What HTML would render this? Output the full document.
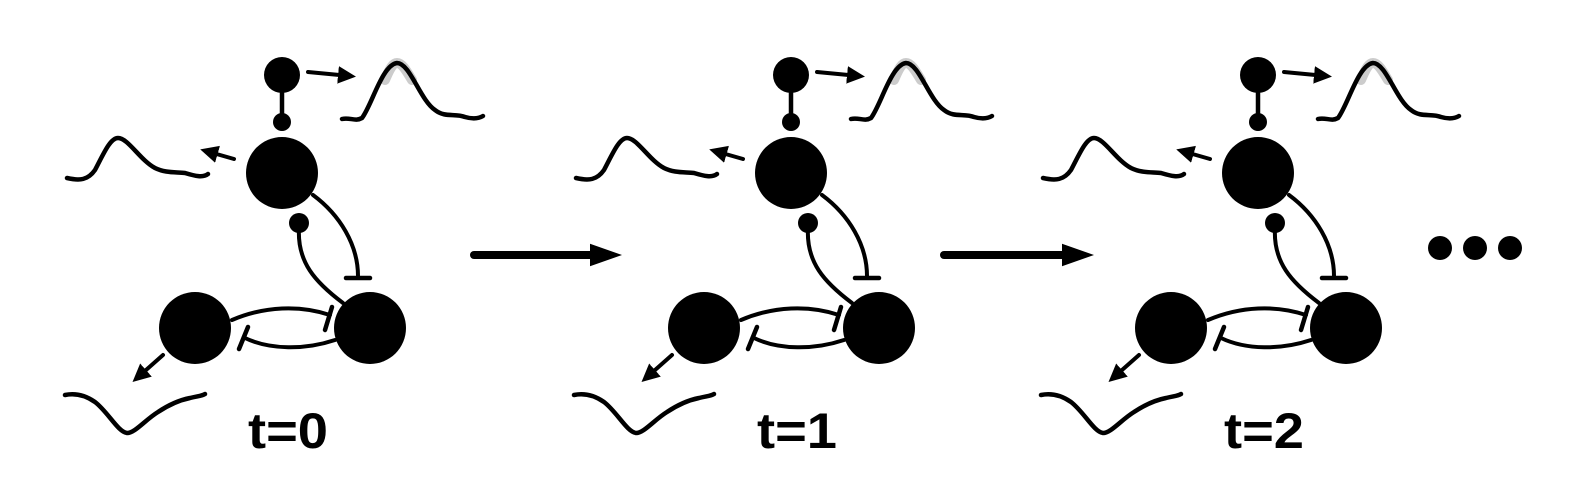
<!DOCTYPE html>
<html><head><meta charset="utf-8"><style>
html,body{margin:0;padding:0;background:#fff;width:1570px;height:498px;overflow:hidden}
svg{display:block}
</style></head><body>
<svg id="fig" width="1570" height="498" viewBox="0 0 1570 498">
<defs>
<marker id="ah" markerWidth="6" markerHeight="6" refX="3" refY="3" orient="auto" markerUnits="strokeWidth"><path d="M0,0.8 L4.5,3 L0,5.2 Z" fill="#000"/></marker>
<marker id="bah" markerWidth="4" markerHeight="4" refX="1" refY="2" orient="auto" markerUnits="strokeWidth"><path d="M0,0.6 L4,2 L0,3.4 Z" fill="#000"/></marker>
</defs>
<g id="panel0" fill="none" stroke="#000" stroke-linecap="round">
  <circle cx="282" cy="75" r="18" fill="#000" stroke="none"/>
  <line x1="282" y1="85" x2="282" y2="118" stroke-width="4.5"/>
  <circle cx="282" cy="122" r="9" fill="#000" stroke="none"/>
  <circle cx="282" cy="173" r="36" fill="#000" stroke="none"/>
  <circle cx="195" cy="328" r="36" fill="#000" stroke="none"/>
  <circle cx="370" cy="328" r="36" fill="#000" stroke="none"/>
  <circle cx="299" cy="223" r="10" fill="#000" stroke="none"/>
  <path d="M299,228 C297,262 315,282 343,303" stroke-width="4"/>
  <path d="M313,195 C340,215 358,245 358,276" stroke-width="4"/>
  <line x1="346" y1="278" x2="370" y2="278" stroke-width="4.5"/>
  <path d="M232,320 C265,306 300,305 330,315" stroke-width="4"/>
  <line x1="325" y1="330" x2="332" y2="307" stroke-width="4.5"/>
  <path d="M335,340 C305,350 270,350 245,338" stroke-width="4"/>
  <line x1="239" y1="349" x2="248" y2="327" stroke-width="4.5"/>
  <line x1="308" y1="72" x2="350" y2="76" stroke-width="4" marker-end="url(#ah)"/>
  <line x1="234" y1="159" x2="206" y2="151" stroke-width="4" marker-end="url(#ah)"/>
  <line x1="163" y1="355" x2="137" y2="378" stroke-width="4" marker-end="url(#ah)"/>
  <path d="M385,80 C390,68 393,63 397,63 C402,63 406,70 412,80" stroke="#ccc" stroke-width="10"/>
  <path d="M342,119 C350,117 355,122 362,118 C372,105 382,65 397,63 C410,63 420,100 435,110 C445,118 455,113 465,117 C472,119 478,119 483,116" stroke-width="4.5"/>
  <path d="M67,178 C80,181 88,180 95,170 C103,155 110,138 118,138 C128,138 140,160 155,168 C165,173 175,172 185,173 C195,176 203,178 208,174" stroke-width="4.5"/>
  <path d="M65,395 C75,393 85,395 95,402 C108,412 118,432 127,433 C135,433 145,420 158,412 C170,404 180,400 190,398 C198,396 202,396 205,394" stroke-width="4.5"/>
  <text x="288" y="448" text-anchor="middle" fill="#000" stroke="none" font-family="Liberation Sans, sans-serif" font-weight="bold" font-size="50" textLength="80" lengthAdjust="spacingAndGlyphs">t=0</text>
</g>
<line x1="474" y1="255" x2="598" y2="255" stroke="#000" stroke-width="8" stroke-linecap="round" marker-end="url(#bah)"/>
<line x1="944" y1="255" x2="1070" y2="255" stroke="#000" stroke-width="8" stroke-linecap="round" marker-end="url(#bah)"/>
<circle cx="1440" cy="248" r="12" fill="#000"/>
<circle cx="1475" cy="248" r="12" fill="#000"/>
<circle cx="1510" cy="248" r="12" fill="#000"/>
</svg>
<script>
var offsets=[509,976];
var labels=["t=1","t=2"];
var svg=document.getElementById('fig');
var p0=document.getElementById('panel0');
for(var i=0;i<offsets.length;i++){
  var c=p0.cloneNode(true);
  c.removeAttribute('id');
  c.setAttribute('transform','translate('+offsets[i]+',0)');
  
  
  c.querySelector('text').textContent=labels[i];
  svg.appendChild(c);
}
</script>
</body></html>
